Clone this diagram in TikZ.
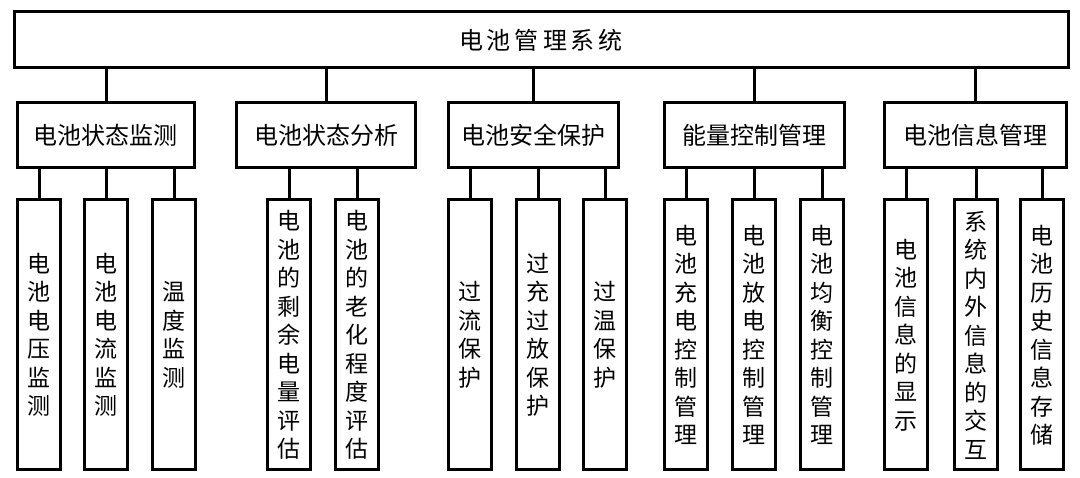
\documentclass[tikz,border=0pt]{standalone}
\usepackage{fontspec}
\newfontfamily\cjk{Noto Sans CJK SC}
\begin{document}
\begin{tikzpicture}[x=1pt,y=-1pt,
  box/.style={draw,line width=3pt,inner sep=0pt,font=\cjk\fontsize{24}{26}\selectfont},
  leaf/.style={draw,line width=3pt,inner sep=0pt,font=\cjk\fontsize{23}{28.5}\selectfont,align=center},
  conn/.style={line width=3pt}]
\useasboundingbox (0,0) rectangle (1080,478);
\fill[white] (0,0) rectangle (1080,478);
\node[box,minimum width=1054,minimum height=56] (top) at (541,40) {电\,池\,管\,理\,系\,统};
\newcommand{\midbox}[4]{\node[box,minimum width=#3,minimum height=65] (#1) at (#2,135.5) {#4};
  \draw[conn] (#1.north) -- (#1.north|-top.south);}
\midbox{a}{106}{177}{电池状态监测}
\midbox{b}{326}{179}{电池状态分析}
\midbox{c}{533}{170}{电池安全保护}
\midbox{d}{754}{180}{能量控制管理}
\midbox{e}{975}{182}{电池信息管理}
\newcommand{\lf}[4]{\node[leaf,minimum width=43,minimum height=270] (#1) at (#2,335) {#4};
  \draw[conn] (#1.north) -- (#1.north|-#3.south);}
\lf{a1}{39}{a}{电\\池\\电\\压\\监\\测}
\lf{a2}{106}{a}{电\\池\\电\\流\\监\\测}
\lf{a3}{174}{a}{温\\度\\监\\测}
\lf{b1}{289}{b}{电\\池\\的\\剩\\余\\电\\量\\评\\估}
\lf{b2}{357}{b}{电\\池\\的\\老\\化\\程\\度\\评\\估}
\lf{c1}{470}{c}{过\\流\\保\\护}
\lf{c2}{538}{c}{过\\充\\过\\放\\保\\护}
\lf{c3}{605}{c}{过\\温\\保\\护}
\lf{d1}{686}{d}{电\\池\\充\\电\\控\\制\\管\\理}
\lf{d2}{754}{d}{电\\池\\放\\电\\控\\制\\管\\理}
\lf{d3}{822}{d}{电\\池\\均\\衡\\控\\制\\管\\理}
\lf{e1}{906}{e}{电\\池\\信\\息\\的\\显\\示}
\lf{e2}{976}{e}{系\\统\\内\\外\\信\\息\\的\\交\\互}
\lf{e3}{1042}{e}{电\\池\\历\\史\\信\\息\\存\\储}
\end{tikzpicture}
\end{document}
